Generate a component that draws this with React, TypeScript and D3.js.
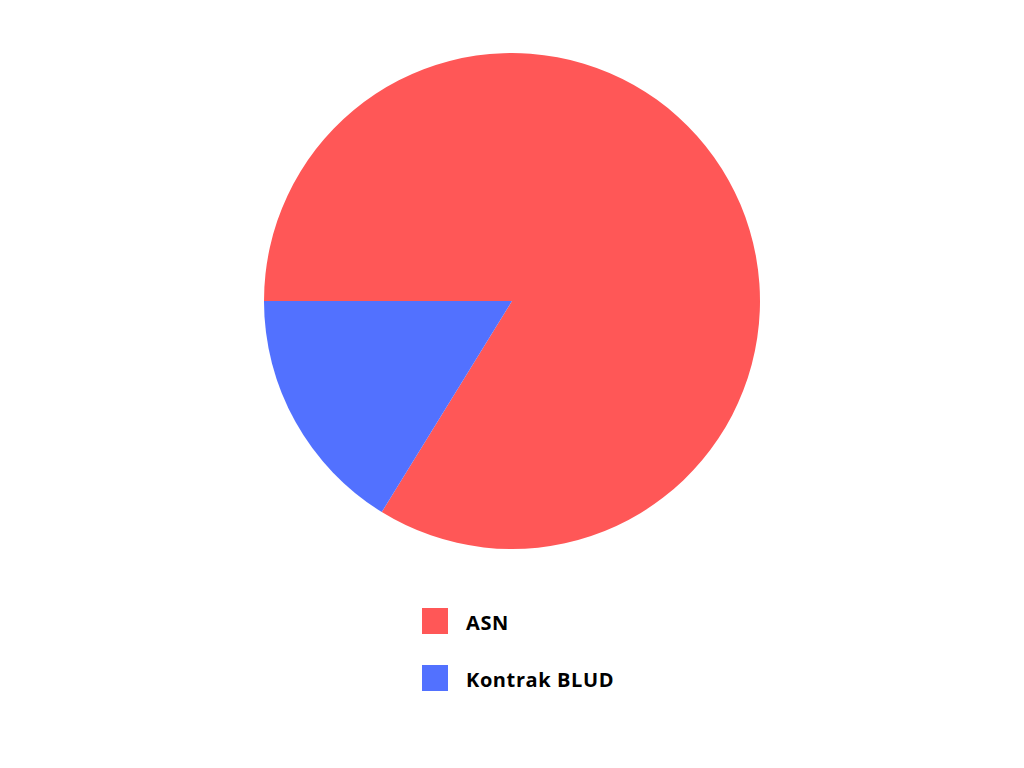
import React from "react";
import * as d3 from "d3";

const categories = ["ASN", "Kontrak BLUD"];
const values = [83.8, 16.2];
const colors = ["#FF5757", "#5271FF"];

export default function App() {
  const width = 1024;
  const height = 768;
  const cx = 512;
  const cy = 301;
  const r = 248;
  const pie = d3
    .pie<number>()
    .sort(null)
    .startAngle(-Math.PI / 2)
    .endAngle((3 * Math.PI) / 2);
  const arcs = pie(values);
  const arcGen = d3.arc<d3.PieArcDatum<number>>().innerRadius(0).outerRadius(r);
  const legendY = d3.scalePoint<string>().domain(categories).range([608, 665]);
  return (
    <svg
      width={width}
      height={height}
      style={{ position: "absolute", left: 0, top: 0, background: "#fff" }}
    >
      <rect width={width} height={height} fill="#fff" />
      <g transform={`translate(${cx},${cy})`}>
        {arcs.map((a, i) => (
          <path key={i} d={arcGen(a) || ""} fill={colors[i]} />
        ))}
      </g>
      {categories.map((c, i) => (
        <g key={c} transform={`translate(422,${legendY(c)})`}>
          <rect width={26} height={26} fill={colors[i]} />
          <text
            x={44}
            y={21.5}
            fontFamily="'Open Sans', sans-serif"
            fontWeight={700}
            fontSize={20}
            letterSpacing={0.6}
            fill="#000"
          >
            {c}
          </text>
        </g>
      ))}
    </svg>
  );
}
